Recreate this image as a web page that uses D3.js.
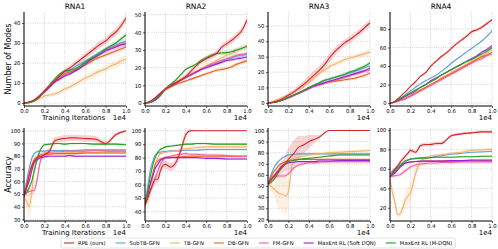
<!DOCTYPE html>
<html><head><meta charset="utf-8">
<script src="https://cdn.jsdelivr.net/npm/d3@7"></script>
<style>body{margin:0;background:#fff} svg{display:block} text{font-family:"DejaVu Sans",sans-serif}</style>
</head><body><svg id="c" width="498" height="249"></svg>
<script>
// ---------- data ----------
const seriesNames = ["RPE (ours)","SubTB-GFN","TB-GFN","DB-GFN","FM-GFN","MaxEnt RL (Soft DQN)","MaxEnt RL (M-DQN)"];
const seriesColors = ["#d62728","#5ea3d8","#f7b26a","#e8621e","#f0649b","#9a22d8","#22a022"];
const titles = ["RNA1","RNA2","RNA3","RNA4"];
const xTop = [0,0.05,0.1,0.15,0.2,0.25,0.3,0.35,0.4,0.45,0.5,0.55,0.6,0.65,0.7,0.75,0.8,0.85,0.9,0.95,1.0];
const xBot = [0,0.025,0.05,0.075,0.1,0.125,0.15,0.175,0.2,0.25,0.3,0.35,0.4,0.45,0.5,0.6,0.7,0.8,0.9,1.0];
const xTicks = [0,0.2,0.4,0.6,0.8,1.0];
const yTicksModes = [[0,10,20,30,40],[0,10,20,30,40,50],[0,10,20,30,40,50],[0,20,40,60,80]];
const yTicksAcc = [[30,40,50,60,70,80,90,100],[40,50,60,70,80,90,100],[20,30,40,50,60,70,80,90,100],[20,40,60,80,100]];
const yLimModes = [[-1.5,45.5],[-1.7,51.5],[-2,59],[-3.2,98.4]];
const yLimAcc = [[28.7,102.3],[33,102],[18.5,102.3],[6.4,102]];

// Number of modes (x = xTop), series order as seriesNames
const modesRNA1 = [
 [0,0.5,1.5,3.5,6,8.5,11,13.5,16,17.5,19.5,21.5,23.5,25.5,27.5,29.5,31,33.5,35.5,38.5,42.5],
 [0,0.3,1.5,3.5,6,8.5,11,13.5,15.5,16.5,18,19.5,21,22.5,24,25.5,27,28,29,30,31],
 [0,0.2,1,2,3.5,4,4.5,5.5,7,8,9.5,11,12.5,13.5,15,16,17,18.5,19.5,21,22],
 [0,0.3,1.2,3,5.5,8,10.5,12.5,14.5,15.5,16.5,17.5,19,20.5,22,23,24,25,26,27,28],
 [0,0.3,1.2,3,5.5,8,10.5,12,14,15,16,17.5,19.5,21.5,23.5,25,26.5,27.5,28.5,29.5,30],
 [0,0.3,1.2,3,5.5,8,10.5,12,13.5,14.5,16,17.5,19.5,21.5,23,24.5,26,27,28,29,29.5],
 [0,0.2,1,3,6,9,12,14.5,16,16.3,17,18.5,20.5,22,23.5,25,27,28.5,30,32,34]
];
const modesRNA2 = [
 [0,1,3,5.5,8,9.5,11,13,15,18,21,23.5,25,26.5,28,31.5,33.5,35.5,38,41,47],
 [0,0.3,2,5,8,10,11.5,13,14.5,16,17.5,19,20.5,21.5,22.5,23.5,24.5,25.5,26.5,27,27.5],
 [0,0.3,2,5,8,10,12,13.5,15,16.5,18,19.5,21,22.5,24,25.5,27,28,29.5,31,32.5],
 [0,0.3,2,4.5,7.5,9,10.5,11.5,12.5,13.5,14.5,15.5,16.5,17.5,18.5,19,19.5,20.5,22,23,24],
 [0,0.3,2,5,8,10,11.5,13,14.5,16,17.5,19,20.5,22,23,24,25,26,27,27.5,28],
 [0,0.3,2,5,8,10,11.5,13,14.5,16,17.5,19,20,21,22,23,24,24.5,25,25.5,26],
 [0,0.3,1.5,4,8,10.5,13,16,19,20.5,22,24,25.5,27,28,28.3,28.5,29,30,31,32]
];
const modesRNA3 = [
 [0,0.5,1.5,3,5,7,9.5,12,15,18,21,24.5,29,33,36,39,41,43.5,46,49,52],
 [0,0.3,1,2,3.5,5,6.5,8,10,11.5,13,14.5,15.5,16.5,17.5,18.5,19.5,20.5,21.5,23,24],
 [0,1,2.5,4,5.5,7,9,11,13.5,16.5,19,21,23.5,25,26.5,28,29,30,31,32,33],
 [0,0.3,1,2,3.5,5,6.5,8,9.5,11,12,13,13.5,14,14.5,15,15.5,16,17,18,19.5],
 [0,0.3,1,2,3,4.5,6,7.5,9,10.5,11.5,12.5,13.5,14.5,15.5,16.5,17.5,18.5,19.5,20.5,21.5],
 [0,0.3,1,2,3.5,5,6.5,8,9.5,11,12,13,14,15,16,17,18,19,20,21,22.5],
 [0,0.3,1,2,3.5,5,6.5,8,10,11.5,13,14.5,15.5,16.5,17.5,18.5,20,21,22.5,24,26]
];
const modesRNA4 = [
 [0,2,7,12,18,23,29,33,40,45,50,54,59,64,68,72,77,79,82,86,90],
 [0,1.5,5,9,13,17,21,24,27,30,34,38,43,47,51,55,59,63,67,72,78],
 [0,1,3,5,8,11,14,17,20,23,27,30,33,36,39,42,45,48,51,54,58],
 [0,1,3,5,8,11,14,17,20,23,26,29,32,35,38,41,44,47,50,52,55],
 [0,1,2.5,4.5,7,10,13,16,19,22,25,28,31,34,37,40,43,46,48,51,53],
 [0,1.5,4,7,10,13,17,20,24,27,30,33,36,39,42,45,48,51,55,58,62],
 [0,1.5,5,8,11,14,17,20,23,26,30,33,36,39,42,45,47,50,53,56,60]
];
// band half-widths for the modes panels
const sdTopS = [0,0.2,0.3,0.4,0.5,0.6,0.6,0.7,0.7,0.8,0.8,0.8,0.9,0.9,0.9,1,1,1,1.1,1.1,1.2];
const sdTopM = [0,0.3,0.5,0.7,0.9,1,1.1,1.2,1.3,1.4,1.5,1.5,1.6,1.6,1.7,1.7,1.8,1.8,1.9,1.9,2];
const sdTopL = [0,0.4,0.7,1,1.3,1.6,2,2.4,2.8,3,3,3,2.8,2.6,2.4,2.2,2.2,2.2,2.3,2.4,2.5];
const sdModes = [
 [sdTopM,sdTopS,sdTopM,sdTopS,sdTopS,sdTopS,sdTopS],
 [sdTopM,sdTopS,sdTopM,sdTopS,sdTopS,sdTopS,sdTopS],
 [sdTopL,sdTopS,sdTopM,sdTopS,sdTopS,sdTopS,sdTopS],
 [sdTopM,sdTopS,sdTopM,sdTopS,sdTopM,sdTopS,sdTopS]
];

// Accuracy (x = xBot)
const accRNA1 = [
 [48,55,65,72,76,78,80,80,81,84,92,93.5,94,94.5,94.5,94,93.5,90,97,100],
 [48,60,70,78,82,83.5,84,84,84,84.5,84.5,84.5,84.5,84.5,84.5,85,85,85,85,85],
 [48,44,40,50,70,77,80,81,82,82,82.5,82.5,83,83,83,83,83,83.5,83.5,83.5],
 [48,57,65,72,77,79,80.5,81,81.5,81.5,82,82,82,82,82,82.5,82.5,82.5,82.5,82.5],
 [50,51,52,52.5,53,60,72,80,82,83,83.5,83.5,84,84,84,84,84.5,84,84,84],
 [50,55,60,68,75,77,78.5,79,79.5,80,80,80,80,80.5,80,80,80,80,80,80],
 [50,51,55,60,68,76,83,87,89,89.5,90,90,89.5,90,90,90,89.5,89.5,89.5,89]
];
const accRNA2 = [
 [45,50,55,60,64,64,70,74,75,73,76,85,97,100,100,100,100,100,100,100],
 [45,58,70,77,82,83.5,84,84.5,84.5,85,85,85,85.5,85.5,85.5,86,86,86,86,86],
 [45,48,55,65,75,80,83,83.5,84,84.5,85,86,86.5,87,87.5,88,88,88,88,88],
 [45,52,60,68,75,77.5,79,79.5,80,80,80.5,80.5,81,81,81,81,81,81,81,81],
 [45,50,55,60,65,70,75,78,80,81,82,82.5,83,82.5,82.5,82,82,81.5,81,81],
 [45,52,60,66,72,75,78,79,80,80,80,80,80,80,80,79.5,79.5,79,79,79],
 [45,55,65,74,80,84,86,87,88,88.5,89,89.5,90,90,90.5,90.5,90,90,90,90]
];
const accRNA3 = [
 [52,55,58,60,63,66,68,71,74,79,85,87,90,92,94,100,100,100,100,100],
 [52,59,65,69,72,74,76,77,78,78.5,79,79,79,79,79,79,79,79,79,79],
 [52,50,48,46,44,43,42,41,45,75,76,77,78,78.5,79,80,80.5,81,81.5,82],
 [52,57,62,65,68,70,71,72,73,73.5,74,74,74,74,74,74,74,74,74,74],
 [52,56,58,58.5,59,59,59,59.5,61,66,69,70,71,71,71.5,72,72,72,72,72],
 [52,55,58,61,64,67,69,70,71,71.5,72,72,72,72,72.5,72.5,73,73,73,73],
 [52,53,55,58,62,65,68,70,72,73,74,74.5,75,75.5,76,77,78,78,78,78]
];
const accRNA4 = [
 [52,56,60,63,67,70,73,76,79,77,84,85,85,86,86,94,96,97,98,98],
 [55,58,60,62,65,66,68,69,70,71,71.5,72,72,73,73.5,75,76,77,77.5,78],
 [50,35,25,13,14,20,28,32,35,55,68,71,73,74,74.5,76,77,79,79.5,80],
 [52,55,57,60,62,64,66,66.5,67,67.5,67.5,68,68,68,68,68,68,68,68,68],
 [52,52.5,53,53.5,54,56,58,60,62,64,65,65.5,66,66,66.5,66.5,67,67,67,67],
 [52,54,56,59,62,64,66,66.5,67,67.5,68,68,68,68,68,68.5,68.5,69,69,69],
 [52,55,58,61,63,66,68,69,70,70.5,71,71,71.5,72,72,72,72.5,72.5,73,73]
];
const sdBotS = [1,1.5,1.5,1.5,1.2,1,1,0.8,0.8,0.7,0.7,0.7,0.7,0.7,0.7,0.7,0.7,0.7,0.7,0.7];
const sdAcc = [
 [[2,4,5,4,3,3,3,3,3,3,3,2.5,2.5,2.5,2.5,2.5,2.5,2,1.5,0.5], sdBotS,
  [2,6,9,10,5,3,2,1.5,1,1,1,1,1,1,1,1,1,1,1,1], sdBotS,
  [2,3,3,3,3,4,4,2,1,1,1,1,1,1,1,1,1,1,1,1], sdBotS, sdBotS],
 [[2,3,3,3,3,3,3,3,3,3,3,4,3,1,0.5,0.2,0.2,0.2,0.2,0.2], sdBotS,
  [3,6,5,3,2,1.5,1,1,1,1,1,1,1,1,1,1,1,1,1,1], sdBotS,
  [2,3,3,3,3,3,3,2,1.5,1,1,1,1,1,1,1,1,1,1,1], sdBotS, sdBotS],
 [[1,2,2,3,4,5,6,8,10,12,10,8,6,4,2,0.5,0.2,0.2,0.2,0.2], sdBotS,
  [2,4,5,10,14,15,16,17,10,4,2,1.5,1.5,1.5,1.5,1.5,1.5,1.5,1.5,1.5], sdBotS,
  [2,2,2,2,2,2,2,2,2,2,1.5,1.5,1.5,1.5,1.5,1.5,1.5,1.5,1.5,1.5], sdBotS, sdBotS],
 [[1,2,2,2,2,2,2,2,2,2,2,2,2,2,2,1.5,1.5,1.5,1.5,1.5], sdBotS,
  [2,6,8,3,3,6,8,9,9,8,4,2,1.5,1.5,1.5,1.5,1.5,1.5,1.5,1.5], sdBotS,
  [2,2,2,2,2,2,2,2,2,2,2,2,2,2,2,2,2,2,2,2], sdBotS, sdBotS]
];

// ---------- layout ----------
const svg = d3.select("#c");
const L = [24,145,268,390], W = 102;
const rows = [
  {top:12, bottom:106, xs:xTop, data:[modesRNA1,modesRNA2,modesRNA3,modesRNA4], sd:sdModes, lim:yLimModes, ticks:yTicksModes, ylabel:"Number of Modes"},
  {top:128, bottom:221, xs:xBot, data:[accRNA1,accRNA2,accRNA3,accRNA4], sd:sdAcc, lim:yLimAcc, ticks:yTicksAcc, ylabel:"Accuracy"}
];
const drawOrder = [1,2,3,4,5,6,0];
const defs = svg.append("defs");

rows.forEach((r,ri)=>{
  for(let p=0;p<4;p++){
    const g = svg.append("g");
    const x = d3.scaleLinear().domain([0,1]).range([L[p], L[p]+W]);
    const y = d3.scaleLinear().domain(r.lim[p]).range([r.bottom, r.top]);
    const cid = `clip${ri}${p}`;
    defs.append("clipPath").attr("id",cid).append("rect")
      .attr("x",L[p]).attr("y",r.top).attr("width",W).attr("height",r.bottom-r.top);
    // grid
    g.selectAll(".gx").data(xTicks).join("line")
      .attr("x1",d=>x(d)).attr("x2",d=>x(d)).attr("y1",r.top).attr("y2",r.bottom)
      .attr("stroke","#b8b8b8").attr("stroke-width",0.6).attr("stroke-dasharray","1,1.2");
    g.selectAll(".gy").data(r.ticks[p]).join("line")
      .attr("x1",L[p]).attr("x2",L[p]+W).attr("y1",d=>y(d)).attr("y2",d=>y(d))
      .attr("stroke","#b8b8b8").attr("stroke-width",0.6).attr("stroke-dasharray","1,1.2");
    const pg = g.append("g").attr("clip-path",`url(#${cid})`);
    const area = (m,s)=>d3.area().x((d,i)=>x(r.xs[i])).y0((d,i)=>y(m[i]-s[i])).y1((d,i)=>y(m[i]+s[i])).curve(d3.curveMonotoneX)(m);
    const line = d3.line().x((d,i)=>x(r.xs[i])).y(d=>y(d)).curve(d3.curveMonotoneX);
    drawOrder.forEach(si=>{
      pg.append("path").attr("d",area(r.data[p][si], r.sd[p][si]))
        .attr("fill",seriesColors[si]).attr("fill-opacity",0.2);
    });
    drawOrder.forEach(si=>{
      pg.append("path").attr("d",line(r.data[p][si]))
        .attr("fill","none").attr("stroke",seriesColors[si]).attr("stroke-width",1.1);
    });
    // axes
    const ax = g.append("g").attr("transform",`translate(0,${r.bottom})`)
      .call(d3.axisBottom(x).tickValues(xTicks).tickFormat(d3.format(".1f")).tickSize(2).tickPadding(1.5));
    const ay = g.append("g").attr("transform",`translate(${L[p]},0)`)
      .call(d3.axisLeft(y).tickValues(r.ticks[p]).tickFormat(d3.format("d")).tickSize(2).tickPadding(1.5));
    [ax,ay].forEach(a=>{
      a.select(".domain").attr("stroke","#000").attr("stroke-width",1);
      a.selectAll(".tick line").attr("stroke","#000").attr("stroke-width",0.6);
      a.selectAll("text").attr("font-size",5.3).attr("font-family","DejaVu Sans").attr("fill","#000");
    });
    ax.select(".domain").attr("d",`M${L[p]},0H${L[p]+W}`);
    ay.select(".domain").attr("d",`M0,${r.top}V${r.bottom}`);
    // 1e4 offset
    g.append("text").attr("x",L[p]+W).attr("y",r.bottom+13.5).attr("text-anchor","end")
      .attr("font-size",7).text("1e4");
    if(p===0){
      g.append("text").attr("x",L[p]+18).attr("y",r.bottom+13.5).attr("font-size",7).text("Training Iterations");
      g.append("text").attr("transform",`translate(10.5,${(r.top+r.bottom)/2}) rotate(-90)`)
        .attr("text-anchor","middle").attr("font-size",8).text(r.ylabel);
    }
    if(ri===0){
      g.append("text").attr("x",L[p]+W/2).attr("y",9).attr("text-anchor","middle")
        .attr("font-size",7.5).text(titles[p]);
    }
  }
});

// legend
const lg = svg.append("g");
const box = lg.append("rect").attr("x",61).attr("y",238).attr("height",10).attr("rx",1.5)
  .attr("fill","#fff").attr("stroke","#cccccc").attr("stroke-width",0.6);
let lx = 64;
seriesNames.forEach((n,i)=>{
  lg.append("line").attr("x1",lx).attr("x2",lx+10).attr("y1",243).attr("y2",243)
    .attr("stroke",seriesColors[i]).attr("stroke-width",1.1);
  const t = lg.append("text").attr("x",lx+14).attr("y",245).attr("font-size",5.3).text(n);
  lx = lx + 14 + t.node().getComputedTextLength() + 10;
});
box.attr("width",lx-61-7);
</script></body></html>
